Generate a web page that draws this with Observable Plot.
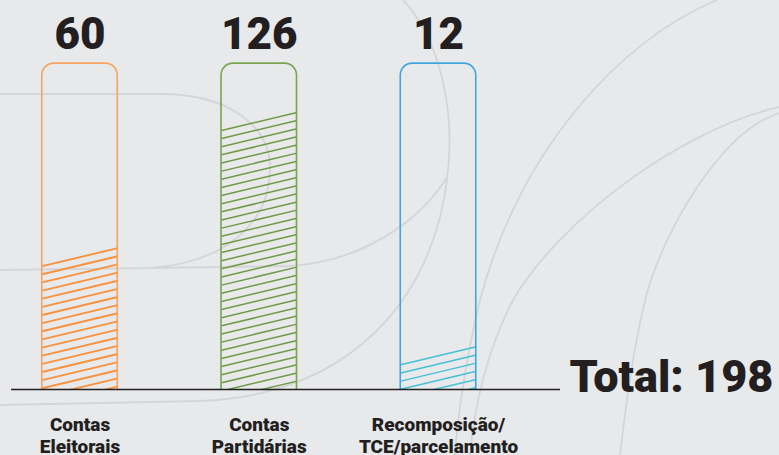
<!DOCTYPE html>
<html>
<head>
<meta charset="utf-8">
<script src="https://cdn.jsdelivr.net/npm/d3@7"></script>
<script src="https://cdn.jsdelivr.net/npm/@observablehq/plot@0.6"></script>
<style>
  html, body { margin: 0; padding: 0; background: #e8e9eb; }
  #wrap { position: relative; width: 779px; height: 455px; overflow: hidden; background: #e8e9eb; font-family: Roboto, "Noto Sans", sans-serif; }
  #deco { position: absolute; left: 0; top: 0; }
  #chart { position: absolute; left: 0; top: 0; }
</style>
</head>
<body>
<div id="wrap">
  <svg id="deco" width="779" height="455" viewBox="0 0 779 455" fill="none" stroke="#d4d5d8" stroke-width="1.8">
    <path d="M0,94 L160,94 C232,94 270,128 270,168 C270,220 230,262 150,268 L0,270"/>
    <path d="M150,268 L290,266 C360,262 420,222 447,177"/>
    <path d="M403,0 C440,40 456,110 447,180 C432,300 350,395 200,401 L0,405"/>
    <path d="M717,0 C620,40 520,150 480,300 C468,350 458,410 455,455"/>
    <path d="M779,107 C680,130 560,220 513,300 C490,345 475,400 470,455"/>
    <path d="M779,113 C720,132 665,230 647,293 C632,350 624,420 620,455"/>
  </svg>
  <div id="chart"></div>
</div>
<script>
// ---- data ----
const categories = ["Contas\nEleitorais", "Contas\nPartidárias", "Recomposição/\nTCE/parcelamento"];
const values = [60, 126, 12];
const outlineColors = ["#f5a45f", "#7aa452", "#3fa6df"];
const hatchColors = ["#f7923e", "#6f9a45", "#45c0d8"];

// ---- derived table ----
const data = categories.map((c, i) => ({i, label: c, value: values[i]}));
const total = d3.sum(values);

// styling constants
const TOP = 158.5;      // container height (in value units)
const HW = 0.2106;      // half bar width in index units
const STEP = 3.96;      // hatch spacing (value units)
const SLANT = 8.75;     // hatch rise across the bar (value units)

// hatch lines (decoration derived from each value)
const hatch = [];
data.forEach(d => {
  for (let y = d.value; y > -SLANT; y -= STEP) hatch.push({i: d.i, y1: y, y2: y + SLANT});
});

const marks = [];
data.forEach(d => {
  marks.push(Plot.link(hatch.filter(h => h.i === d.i), {
    x1: h => h.i - HW, x2: h => h.i + HW, y1: "y1", y2: "y2",
    stroke: hatchColors[d.i], strokeWidth: d.i === 0 ? 1.9 : 1.5, clip: true
  }));
  marks.push(Plot.rect([d], {
    x1: r => r.i - HW, x2: r => r.i + HW, y1: -10, y2: TOP,
    rx: 12, fill: "none", stroke: outlineColors[d.i], strokeWidth: 1.6, clip: true
  }));
});

marks.push(
  Plot.ruleY([0], {stroke: "#231f20", strokeWidth: 1.5}),
  Plot.text(data, {x: "i", y: () => TOP, text: d => String(d.value), dy: -15,
    lineAnchor: "bottom", fontSize: 44, fontWeight: 900, fill: "#231f20"}),
  Plot.text(data, {x: "i", frameAnchor: "bottom", text: "label", lineAnchor: "top", dy: 25,
    fontSize: 19, lineHeight: 1.2, fontWeight: 900, fill: "#231f20"}),
  Plot.text([total], {frameAnchor: "bottom-right", text: d => `Total: ${d}`, textAnchor: "start",
    lineAnchor: "bottom", dx: 9, dy: 2, fontSize: 45, fontWeight: 900, fill: "#231f20"})
);

const chart = Plot.plot({
  width: 779,
  height: 455,
  marginLeft: 11,
  marginRight: 219,
  marginTop: 60,
  marginBottom: 66,
  x: {type: "linear", domain: [-0.3822, 2.6806], axis: null},
  y: {domain: [0, 160], axis: null},
  style: {background: "transparent", fontFamily: "Roboto, 'Noto Sans', sans-serif", overflow: "visible"},
  marks
});
document.getElementById("chart").appendChild(chart);
</script>
</body>
</html>
